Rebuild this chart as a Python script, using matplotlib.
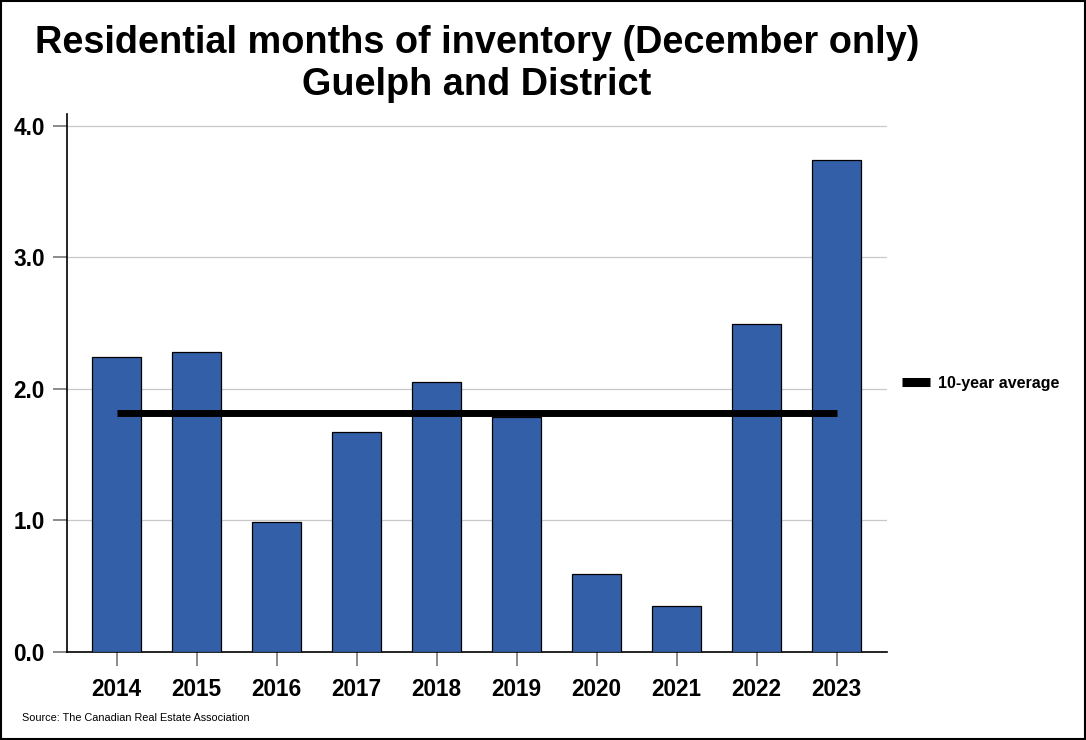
import matplotlib
matplotlib.use('Agg')
import matplotlib.pyplot as plt
from matplotlib.lines import Line2D
from matplotlib.patches import Rectangle

plt.rcParams['font.family'] = ['Liberation Sans', 'DejaVu Sans']

years = ['2014', '2015', '2016', '2017', '2018', '2019', '2020', '2021', '2022', '2023']
months_inventory = [2.24, 2.28, 0.99, 1.67, 2.05, 1.79, 0.59, 0.35, 2.49, 3.74]
ten_year_avg = 1.82
y_ticks = [0.0, 1.0, 2.0, 3.0, 4.0]

fig = plt.figure(figsize=(10.86, 7.40), dpi=100)
ax = fig.add_axes([67 / 1086, 1 - 652 / 740, 820 / 1086, 538 / 740])

x = list(range(len(years)))
ax.bar(x, months_inventory, width=0.61, color='#335EA8', edgecolor='black',
       linewidth=0.9, zorder=3)
ax.plot([x[0], x[-1]], [ten_year_avg, ten_year_avg], color='black', lw=5,
        solid_capstyle='butt', zorder=4)

ax.set_xlim(-0.62, 9.63)
ax.set_ylim(0, 4.09)
ax.set_yticks(y_ticks)
ax.set_yticklabels([f'{v:.1f}' for v in y_ticks])
ax.set_xticks(x)
ax.set_xticklabels(years)
ax.yaxis.grid(True, color='#c8c8c8', lw=0.9, zorder=0)
ax.tick_params(axis='both', labelsize=16.3, color='#777777', length=10, width=1.2)
ax.tick_params(axis='y', pad=6)
ax.tick_params(axis='x', pad=9)
for lab in ax.get_xticklabels() + ax.get_yticklabels():
    lab.set_fontweight('bold')
for side in ['top', 'right']:
    ax.spines[side].set_visible(False)
ax.spines['left'].set_linewidth(1.2)
ax.spines['bottom'].set_linewidth(1.2)

fig.text(477 / 1086, 1 - 64 / 740,
         'Residential months of inventory (December only)\nGuelph and District',
         ha='center', va='center', fontsize=27.3, fontweight='bold', linespacing=1.22)

handle = Line2D([0], [0], color='black', lw=6.5, solid_capstyle='butt')
fig.legend([handle], ['10-year average'], loc='center left',
           bbox_to_anchor=(888 / 1086, 1 - 383 / 740), frameon=False,
           prop={'size': 11.5, 'weight': 'bold'}, handlelength=1.7, handletextpad=0.5)

fig.text(22 / 1086, 1 - 718 / 740, 'Source: The Canadian Real Estate Association',
         fontsize=7.8, va='center', ha='left')

fig.patches.append(Rectangle((0.001, 0.001), 0.998, 0.997, transform=fig.transFigure,
                             fill=False, edgecolor='black', lw=1.5))

fig.savefig('out.png', dpi=100)
